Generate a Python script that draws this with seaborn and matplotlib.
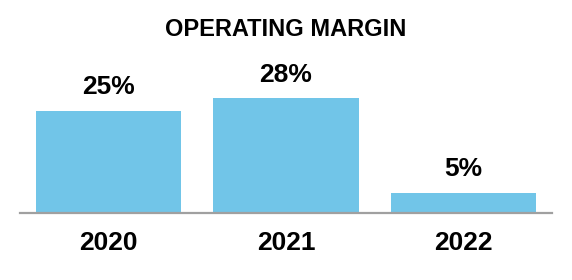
import matplotlib
matplotlib.use("Agg")
import matplotlib.pyplot as plt
import seaborn as sns
import pandas as pd

years = ["2020", "2021", "2022"]
margins = [25, 28, 5]
title = "OPERATING MARGIN"

sns.set_theme(style="white")
plt.rcParams['font.family'] = ['Liberation Sans', 'DejaVu Sans']

df = pd.DataFrame({"year": years, "margin": margins})

fig = plt.figure(figsize=(5.72, 2.80), dpi=100)
ax = fig.add_axes([20/572, 67/280, 532/572, 123/280])

sns.barplot(data=df, x="year", y="margin", color="#71C5E8", saturation=1,
            width=0.82, ax=ax)

ax.set_xlim(-0.5, 2.5)
ax.set_ylim(0, 30)
ax.set_xlabel("")
ax.set_ylabel("")
ax.set_yticks([])
for s in ["top", "right", "left"]:
    ax.spines[s].set_visible(False)
ax.spines["bottom"].set_color("#A0A0A0")
ax.spines["bottom"].set_linewidth(1.6)
ax.tick_params(axis="x", length=0, pad=13, labelsize=19)
for lbl in ax.get_xticklabels():
    lbl.set_fontweight("bold")
    lbl.set_color("black")

for c in ax.containers:
    ax.bar_label(c, labels=[f"{v}%" for v in margins], padding=8,
                 fontsize=19, fontweight="bold", color="black")

for p in ax.patches:
    p.set_edgecolor("none")

fig.text(0.5, (280 - 36) / 280, title, ha="center", va="baseline",
         fontsize=17, fontweight="bold", color="black")

fig.savefig("out.png", dpi=100)
